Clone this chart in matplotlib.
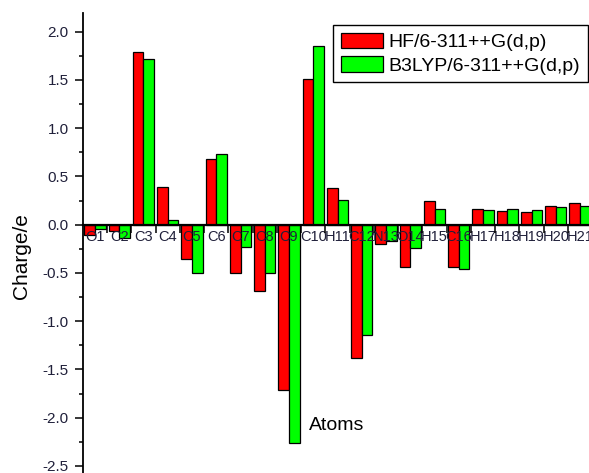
# Mulliken charges, HF vs B3LYP bar chart

import matplotlib
matplotlib.use('Agg')
import matplotlib.pyplot as plt
import numpy as np

plt.rcParams['font.family'] = ['Liberation Sans', 'DejaVu Sans']
plt.rcParams['axes.unicode_minus'] = False

atoms = ['O1', 'C2', 'C3', 'C4', 'C5', 'C6', 'C7', 'C8', 'C9', 'C10', 'H11',
         'C12', 'N13', 'O14', 'H15', 'C16', 'H17', 'H18', 'H19', 'H20', 'H21']
hf = [-0.11, -0.07, 1.79, 0.39, -0.36, 0.68, -0.50, -0.69, -1.71, 1.51, 0.38,
      -1.38, -0.20, -0.44, 0.25, -0.44, 0.165, 0.145, 0.13, 0.197, 0.222]
b3lyp = [-0.04, -0.14, 1.717, 0.05, -0.505, 0.73, -0.235, -0.505, -2.265, 1.849, 0.255,
         -1.146, -0.17, -0.24, 0.165, -0.46, 0.152, 0.165, 0.155, 0.18, 0.19]

colorlist = ['#FF0000', '#00FF00']
txtcolor = '#20203a'
barwidth = 0.44

fig = plt.figure(figsize=(5.89, 4.73), dpi=100)
ax = fig.add_axes([82.5 / 589, 0.0, 1 - 82.5 / 589, (473 - 13.3) / 473])

x = np.arange(len(atoms))
ax.bar(x - barwidth, hf, width=barwidth, align='edge', color=colorlist[0],
       edgecolor='black', lw=0.9, label='HF/6-311++G(d,p)')
ax.bar(x, b3lyp, width=barwidth, align='edge', color=colorlist[1],
       edgecolor='black', lw=0.9, label='B3LYP/6-311++G(d,p)')

ax.set_xlim(-0.515, 20.37)
ax.set_ylim(-2.573, 2.19)

ax.spines['top'].set_visible(False)
ax.spines['right'].set_visible(False)
ax.spines['bottom'].set_position(('data', 0))
ax.spines['bottom'].set_linewidth(1.6)
ax.spines['left'].set_linewidth(1.3)

ax.set_yticks(np.arange(-2.5, 2.01, 0.5))
ax.set_yticks(np.arange(-2.5, 2.2, 0.25), minor=True)
ax.set_yticklabels(['%.1f' % v for v in np.arange(-2.5, 2.01, 0.5)])
ax.tick_params(axis='y', which='major', direction='out', length=5.5, width=1.1,
               labelsize=11, labelcolor=txtcolor, pad=4.5)
ax.tick_params(axis='y', which='minor', direction='out', length=3, width=1.1)

ax.set_xticks(x)
ax.set_xticklabels(atoms)
ax.set_xticks(x[:-1] + 0.5, minor=True)
ax.tick_params(axis='x', which='major', length=0, labelsize=10.5,
               labelcolor=txtcolor, pad=4)
ax.tick_params(axis='x', which='minor', direction='out', length=6, width=1.1)

fig.text(0.037, 0.458, 'Charge/e', rotation=90, fontsize=15, ha='center', va='center')
fig.text(0.572, 0.101, 'Atoms', fontsize=14, ha='center', va='center')

leg = ax.legend(loc='upper right', bbox_to_anchor=(588 / 589, (473 - 25) / 473),
                bbox_transform=fig.transFigure, fontsize=14, fancybox=False,
                framealpha=1, edgecolor='black', handlelength=2.15, handleheight=0.85,
                handletextpad=0.3, labelspacing=0.25, borderpad=0.4, borderaxespad=0)
leg.get_frame().set_linewidth(1.0)

fig.savefig('out.png', dpi=100)
